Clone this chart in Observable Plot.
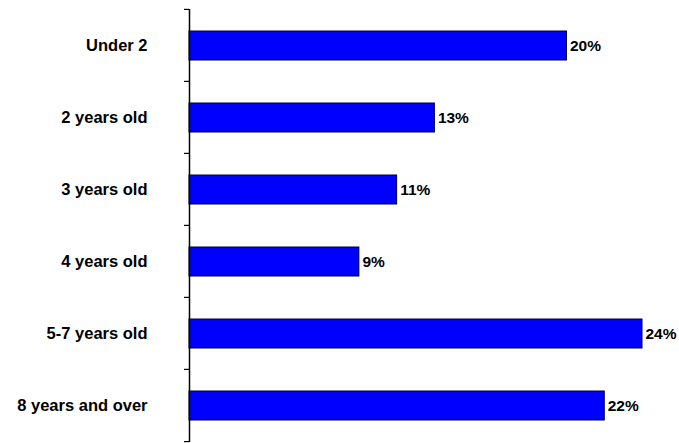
<!DOCTYPE html>
<html><head><meta charset="utf-8">
<script src="https://cdn.jsdelivr.net/npm/d3@7"></script>
<script src="https://cdn.jsdelivr.net/npm/@observablehq/plot@0.6"></script>
<style>body{margin:0;background:#fff;} svg{display:block;}</style>
</head><body><div id="chart"></div>
<script>
const categories = ["Under 2", "2 years old", "3 years old", "4 years old", "5-7 years old", "8 years and over"];
const values = [20, 13, 11, 9, 24, 22];
const labels = ["20%", "13%", "11%", "9%", "24%", "22%"];
const data = categories.map((c, i) => ({category: c, value: values[i], label: labels[i]}));

const plot = Plot.plot({
  width: 679, height: 443,
  marginLeft: 189, marginRight: 37, marginTop: 9, marginBottom: 1,
  style: {fontFamily: "'Liberation Sans', Arial, sans-serif", fontSize: "16.5px", fontWeight: "bold", color: "#000", background: "#fff"},
  x: {domain: [0, 24], axis: null},
  y: {domain: categories, paddingInner: 0.6, paddingOuter: 0.3, label: null, tickSize: 0, tickPadding: 42},
  marks: [
    Plot.barX(data, {y: "category", x: "value", fill: "#0000FF", stroke: "#000033", strokeWidth: 1}),
    Plot.text(data, {y: "category", x: "value", text: "label", textAnchor: "start", dx: 3, fontWeight: "bold", fontSize: 15.5, fill: "#000"}),
    Plot.ruleX([0], {stroke: "#000", strokeWidth: 1.5})
  ]
});
document.getElementById("chart").appendChild(plot);

// band-boundary ticks derived from the y scale
const ys = plot.scale("y");
const step = ys.step, pad = step * 0.3;
const bounds = categories.map(c => ys.apply(c) - pad);
bounds.push(ys.apply(categories[categories.length - 1]) + ys.bandwidth + pad);
const x0 = plot.scale("x").apply(0);
d3.select(plot).append("g").selectAll("line").data(bounds).join("line")
  .attr("x1", x0 - 5).attr("x2", x0).attr("y1", d => d).attr("y2", d => d)
  .attr("stroke", "#000").attr("stroke-width", 1.2);
</script></body></html>
